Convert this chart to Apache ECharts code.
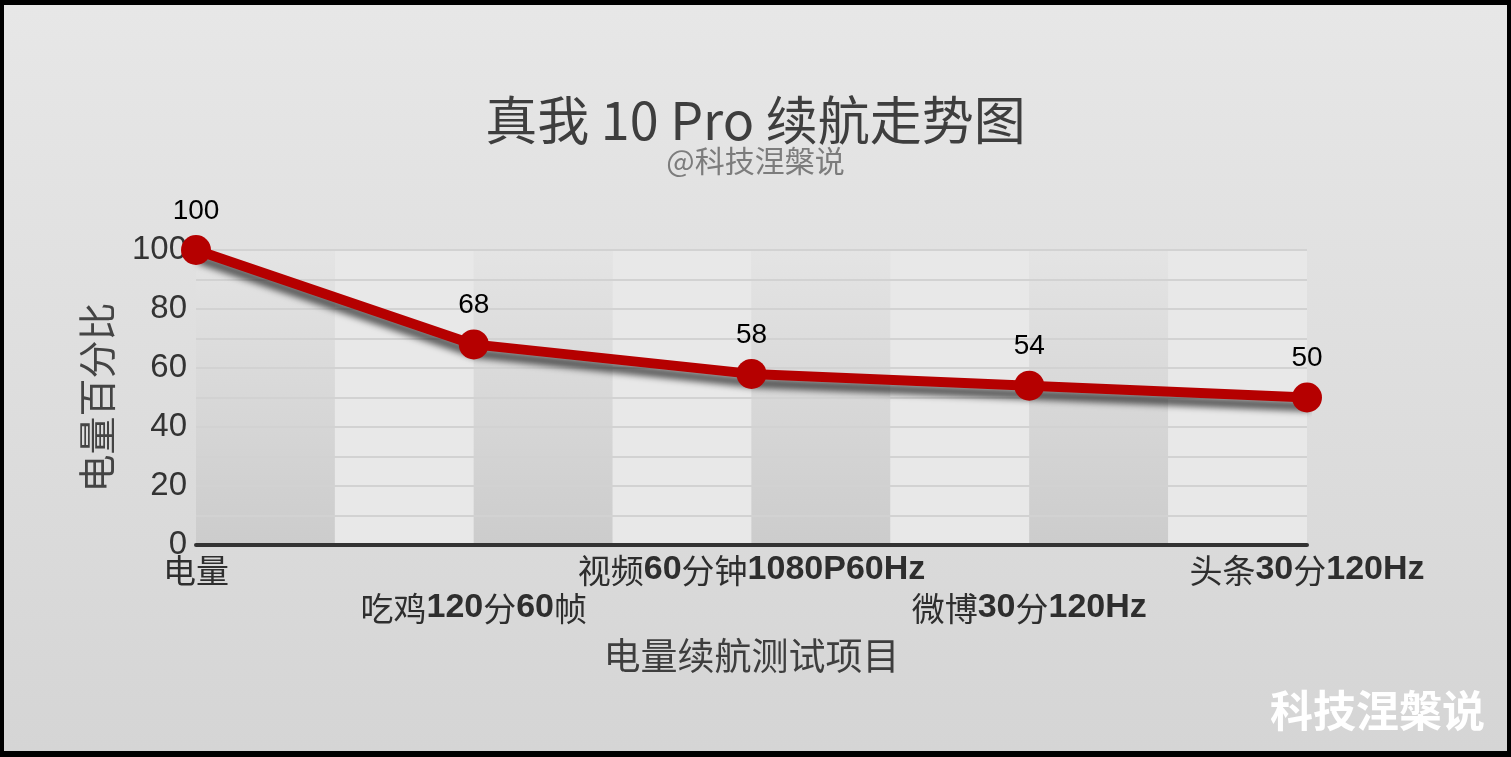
<!DOCTYPE html>
<html><head><meta charset="utf-8">
<script src="https://cdn.jsdelivr.net/npm/echarts@6/dist/echarts.min.js"></script>
<style>
html,body{margin:0;padding:0;}
#c{width:1511px;height:757px;box-sizing:border-box;border:4px solid #000;border-top-width:5px;border-bottom-width:6px;}
</style></head>
<body><div id="c"></div>
<script>
const categories = ['电量', '吃鸡120分60帧', '视频60分钟1080P60Hz', '微博30分120Hz', '头条30分120Hz'];
const batteryValues = [100, 68, 58, 54, 50];
const titleText = '真我 10 Pro 续航走势图';
const subtitleText = '@科技涅槃说';
const yAxisName = '电量百分比';
const xAxisName = '电量续航测试项目';
const watermarkText = '科技涅槃说';

const chart = echarts.init(document.getElementById('c'));
const CJK = '"Noto Sans CJK SC", "Liberation Sans", sans-serif';
const LAT = '"Liberation Sans", Arial, sans-serif';

function richLabel(text, idx) {
  const runs = text.match(/[\x00-\x7f]+|[^\x00-\x7f]+/g) || [];
  const s = runs.map(r => /[\x00-\x7f]/.test(r) ? '{a|' + r + '}' : '{c|' + r + '}').join('');
  return idx % 2 === 1 ? '{c| }\n' + s : s;
}

const grayBand = new echarts.graphic.LinearGradient(0, 0, 0, 1, [
  { offset: 0, color: '#e4e4e4' }, { offset: 1, color: '#cccccc' }
]);

chart.setOption({
  backgroundColor: new echarts.graphic.LinearGradient(0, 0, 0, 1, [
    { offset: 0, color: '#e7e7e7' }, { offset: 1, color: '#d5d5d5' }
  ]),
  title: {
    text: titleText,
    subtext: subtitleText,
    left: 'center',
    top: 84,
    itemGap: 0,
    textStyle: { fontFamily: CJK, fontSize: 52, fontWeight: 'normal', color: '#3e3e3e' },
    subtextStyle: { fontFamily: CJK, fontSize: 30, color: '#7c7c7c' }
  },
  grid: { left: 192, right: 200, top: 245, bottom: 206, containLabel: false },
  xAxis: [
    {
      type: 'category',
      data: categories,
      boundaryGap: false,
      name: xAxisName,
      nameLocation: 'middle',
      nameGap: 92,
      z: 2,
      nameTextStyle: { fontFamily: CJK, fontSize: 37, color: '#3e3e3e', verticalAlign: 'top' },
      axisLine: { show: true, lineStyle: { color: '#333', width: 4 } },
      axisTick: { show: false },
      splitLine: { show: false },
      axisLabel: {
        interval: 0,
        margin: 6,
        formatter: (v, i) => richLabel(v, i),
        rich: {
          a: { fontFamily: LAT, fontSize: 34, fontWeight: 'bold', color: '#2e2e2e', lineHeight: 38 },
          c: { fontFamily: CJK, fontSize: 33, color: '#2e2e2e', lineHeight: 38 }
        }
      }
    },
    {
      type: 'value',
      min: 0, max: 8, interval: 1,
      position: 'top',
      show: true,
      z: 0,
      axisLine: { show: false }, axisTick: { show: false }, axisLabel: { show: false },
      splitLine: { show: false },
      splitArea: { show: true, areaStyle: { color: [grayBand, '#e8e8e8'] } }
    }
  ],
  yAxis: {
    type: 'value',
    min: 0, max: 100, interval: 10,
    z: 1,
    name: yAxisName,
    nameLocation: 'middle',
    nameGap: 80,
    nameTextStyle: { fontFamily: CJK, fontSize: 38, color: '#444' },
    axisLine: { show: false },
    axisTick: { show: false },
    axisLabel: {
      margin: 9,
      fontFamily: LAT, fontSize: 33, color: '#333',
      formatter: v => (v % 20 === 0 ? String(v) : '')
    },
    splitLine: { show: true, lineStyle: { color: '#d2d2d2', width: 2 } }
  },
  series: [{
    type: 'line',
    data: batteryValues,
    xAxisIndex: 0,
    symbol: 'circle',
    symbolSize: 30,
    z: 5,
    lineStyle: { color: '#b50000', width: 10, shadowColor: 'rgba(0,0,0,0.6)', shadowBlur: 6, shadowOffsetX: 3, shadowOffsetY: 9 },
    itemStyle: { color: '#b50000' },
    label: { show: true, position: 'top', distance: 10, fontFamily: LAT, fontSize: 28, color: '#000' }
  }],
  graphic: [{
    type: 'text',
    right: 22,
    top: 684,
    style: {
      text: watermarkText,
      fontFamily: CJK, fontSize: 43, fontWeight: 'bold', fill: '#ffffff',
      shadowColor: 'rgba(0,0,0,0.35)', shadowBlur: 2, shadowOffsetX: 1, shadowOffsetY: 1
    }
  }]
});
</script>
</body></html>
